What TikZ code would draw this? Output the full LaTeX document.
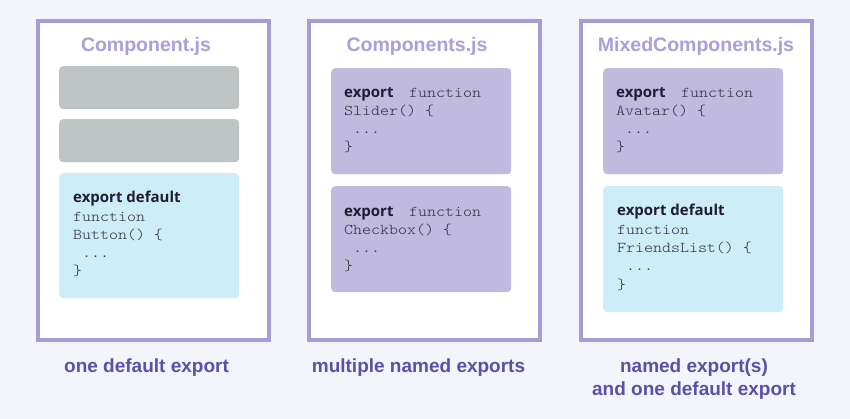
\documentclass[tikz,border=0pt]{standalone}
\usepackage{fontspec}
\setmainfont{Liberation Sans}
\newfontfamily\codefont[FakeStretch=1.14]{Latin Modern Mono Light}
\newfontfamily\kwfont{Open Sans}
\definecolor{bgc}{HTML}{F4F4FD}
\definecolor{framec}{HTML}{A69DD4}
\definecolor{titlec}{HTML}{A89FDB}
\definecolor{grayc}{HTML}{BFC4C4}
\definecolor{bluec}{HTML}{CDEDF9}
\definecolor{purplec}{HTML}{C0BADF}
\definecolor{labelc}{HTML}{5C4FAA}
\definecolor{kwc}{HTML}{1F1C33}
\definecolor{codec}{HTML}{2E2E3A}
\tikzset{
  frame/.style={draw=framec, line width=4pt, fill=white, minimum width=231pt, minimum height=319pt, anchor=north west, inner sep=0pt},
  box/.style={rounded corners=4pt, minimum width=180pt, anchor=north west, inner sep=0pt},
  grayb/.style={box, fill=grayc, minimum height=43pt},
  blueb/.style={box, fill=bluec},
  purpleb/.style={box, fill=purplec, minimum height=106pt},
  ttl/.style={font=\bfseries\fontsize{19.5}{23}\selectfont, text=titlec, anchor=base, inner sep=0pt},
  kw/.style={font=\kwfont\bfseries\fontsize{15}{18}\selectfont, text=kwc, anchor=base west, inner sep=0pt},
  code/.style={font=\codefont\fontsize{15}{18}\selectfont, text=codec, anchor=base west, inner sep=0pt},
  lbl/.style={font=\bfseries\fontsize{19}{23}\selectfont, text=labelc, anchor=base, inner sep=0pt},
}
\begin{document}
\begin{tikzpicture}[x=1pt,y=-1pt]
\fill[bgc] (0,0) rectangle (850,419);
\useasboundingbox (0,0) rectangle (850,419);
% frames
\node[frame] (f1) at (36,19) {};
\node[frame] (f2) at (307,19) {};
\node[frame] (f3) at (579,19) {};
% titles
\node[ttl] (t1) at (146,52) {Component.js};
\node[ttl] (t2) at (417,52) {Components.js};
\node[ttl] (t3) at (696,52) {MixedComponents.js};
% frame 1
\node[grayb] (g1) at (59,66) {};
\node[grayb] (g2) at (59,119) {};
\node[blueb, minimum height=125pt] (b1) at (59,173) {};
\node[kw] (k1) at (73,203) {export default};
\node[code] (c11) at (73,222) {function};
\node[code] (c12) at (73,240) {Button() \{};
\node[code] (c13) at (73,258) {\phantom{x}...};
\node[code] (c14) at (73,276) {\}};
% frame 2
\node[purpleb] (p21) at (331,68) {};
\node[kw] (k21) at (344,98) {export};
\node[code] (c210) at (409,98) {function};
\node[code] (c211) at (344,116) {Slider() \{};
\node[code] (c212) at (344,134) {\phantom{x}...};
\node[code] (c213) at (344,152) {\}};
\node[purpleb] (p22) at (331,186) {};
\node[kw] (k22) at (344,217) {export};
\node[code] (c220) at (409,217) {function};
\node[code] (c221) at (344,235) {Checkbox() \{};
\node[code] (c222) at (344,253) {\phantom{x}...};
\node[code] (c223) at (344,271) {\}};
% frame 3
\node[purpleb] (p31) at (603,68) {};
\node[kw] (k31) at (616,98) {export};
\node[code] (c310) at (681,98) {function};
\node[code] (c311) at (616,116) {Avatar() \{};
\node[code] (c312) at (616,134) {\phantom{x}...};
\node[code] (c313) at (616,152) {\}};
\node[blueb, minimum height=126pt] (b3) at (603,186) {};
\node[kw] (k3) at (617,216) {export default};
\node[code] (c31) at (617,235) {function};
\node[code] (c32) at (617,253) {FriendsList() \{};
\node[code] (c33) at (617,271) {\phantom{x}...};
\node[code] (c34) at (617,289) {\}};
% labels
\node[lbl] (l1) at (146.5,372) {one default export};
\node[lbl] (l2) at (418.5,372) {multiple named exports};
\node[lbl] (l3a) at (694,372) {named export(s)};
\node[lbl] (l3b) at (694,395) {and one default export};
\end{tikzpicture}
\end{document}
